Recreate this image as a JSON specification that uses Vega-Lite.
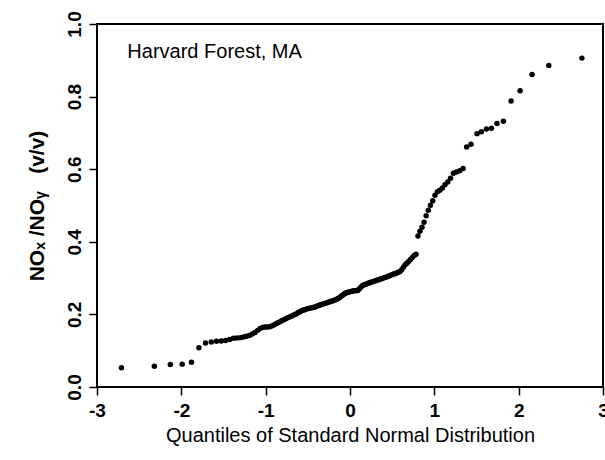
{
  "$schema": "https://vega.github.io/schema/vega-lite/v6.json",
  "width": 506,
  "height": 363,
  "autosize": {"type": "none"},
  "padding": {"left": 97, "top": 24, "right": 2, "bottom": 73},
  "background": "white",
  "config": {
    "view": {"stroke": "black", "strokeWidth": 2},
    "font": "Liberation Sans",
    "axis": {
      "domain": false,
      "grid": false,
      "ticks": true,
      "tickColor": "black",
      "tickSize": 8,
      "tickWidth": 1.5,
      "labelColor": "black",
      "titleColor": "black",
      "labelFont": "Liberation Sans",
      "titleFont": "Liberation Sans",
      "labelFontSize": 19,
      "labelFontWeight": "bold"
    }
  },
  "layer": [
    {
      "data": {
        "values": [
          {"q": -2.71, "r": 0.053}, {"q": -2.32, "r": 0.057}, {"q": -2.13, "r": 0.062}, {"q": -1.99, "r": 0.063}, {"q": -1.88, "r": 0.068},
          {"q": -1.791, "r": 0.108}, {"q": -1.713, "r": 0.121}, {"q": -1.645, "r": 0.124}, {"q": -1.583, "r": 0.126}, {"q": -1.528, "r": 0.127},
          {"q": -1.476, "r": 0.128}, {"q": -1.428, "r": 0.131}, {"q": -1.383, "r": 0.134}, {"q": -1.341, "r": 0.135}, {"q": -1.301, "r": 0.136},
          {"q": -1.263, "r": 0.138}, {"q": -1.227, "r": 0.140}, {"q": -1.192, "r": 0.142}, {"q": -1.159, "r": 0.146}, {"q": -1.126, "r": 0.150},
          {"q": -1.095, "r": 0.156}, {"q": -1.065, "r": 0.161}, {"q": -1.036, "r": 0.164}, {"q": -1.008, "r": 0.165}, {"q": -0.981, "r": 0.165},
          {"q": -0.954, "r": 0.166}, {"q": -0.928, "r": 0.168}, {"q": -0.903, "r": 0.171}, {"q": -0.878, "r": 0.174}, {"q": -0.854, "r": 0.177},
          {"q": -0.830, "r": 0.180}, {"q": -0.806, "r": 0.183}, {"q": -0.783, "r": 0.185}, {"q": -0.761, "r": 0.188}, {"q": -0.739, "r": 0.191},
          {"q": -0.717, "r": 0.193}, {"q": -0.695, "r": 0.195}, {"q": -0.674, "r": 0.198}, {"q": -0.654, "r": 0.200}, {"q": -0.633, "r": 0.202},
          {"q": -0.613, "r": 0.205}, {"q": -0.593, "r": 0.207}, {"q": -0.573, "r": 0.210}, {"q": -0.553, "r": 0.212}, {"q": -0.534, "r": 0.213},
          {"q": -0.515, "r": 0.215}, {"q": -0.496, "r": 0.216}, {"q": -0.477, "r": 0.217}, {"q": -0.458, "r": 0.218}, {"q": -0.440, "r": 0.219},
          {"q": -0.421, "r": 0.220}, {"q": -0.403, "r": 0.222}, {"q": -0.385, "r": 0.223}, {"q": -0.367, "r": 0.225}, {"q": -0.349, "r": 0.226},
          {"q": -0.332, "r": 0.228}, {"q": -0.314, "r": 0.229}, {"q": -0.297, "r": 0.230}, {"q": -0.279, "r": 0.232}, {"q": -0.262, "r": 0.233},
          {"q": -0.245, "r": 0.234}, {"q": -0.228, "r": 0.236}, {"q": -0.210, "r": 0.237}, {"q": -0.193, "r": 0.238}, {"q": -0.176, "r": 0.240},
          {"q": -0.159, "r": 0.242}, {"q": -0.143, "r": 0.244}, {"q": -0.126, "r": 0.246}, {"q": -0.109, "r": 0.249}, {"q": -0.092, "r": 0.252},
          {"q": -0.075, "r": 0.255}, {"q": -0.059, "r": 0.258}, {"q": -0.042, "r": 0.259}, {"q": -0.025, "r": 0.261}, {"q": -0.008, "r": 0.262},
          {"q": 0.008, "r": 0.263}, {"q": 0.025, "r": 0.264}, {"q": 0.042, "r": 0.265}, {"q": 0.059, "r": 0.265}, {"q": 0.075, "r": 0.266},
          {"q": 0.092, "r": 0.266}, {"q": 0.109, "r": 0.270}, {"q": 0.126, "r": 0.274}, {"q": 0.143, "r": 0.278}, {"q": 0.159, "r": 0.281},
          {"q": 0.176, "r": 0.282}, {"q": 0.193, "r": 0.284}, {"q": 0.210, "r": 0.285}, {"q": 0.228, "r": 0.287}, {"q": 0.245, "r": 0.288},
          {"q": 0.262, "r": 0.290}, {"q": 0.279, "r": 0.291}, {"q": 0.297, "r": 0.292}, {"q": 0.314, "r": 0.294}, {"q": 0.332, "r": 0.295},
          {"q": 0.349, "r": 0.296}, {"q": 0.367, "r": 0.298}, {"q": 0.385, "r": 0.299}, {"q": 0.403, "r": 0.301}, {"q": 0.421, "r": 0.302},
          {"q": 0.440, "r": 0.304}, {"q": 0.458, "r": 0.306}, {"q": 0.477, "r": 0.307}, {"q": 0.496, "r": 0.309}, {"q": 0.515, "r": 0.311},
          {"q": 0.534, "r": 0.312}, {"q": 0.553, "r": 0.314}, {"q": 0.573, "r": 0.316}, {"q": 0.593, "r": 0.318}, {"q": 0.613, "r": 0.323},
          {"q": 0.633, "r": 0.330}, {"q": 0.654, "r": 0.337}, {"q": 0.674, "r": 0.341}, {"q": 0.695, "r": 0.346}, {"q": 0.717, "r": 0.351},
          {"q": 0.739, "r": 0.357}, {"q": 0.761, "r": 0.362}, {"q": 0.783, "r": 0.366}, {"q": 0.806, "r": 0.416}, {"q": 0.830, "r": 0.429},
          {"q": 0.854, "r": 0.440}, {"q": 0.878, "r": 0.454}, {"q": 0.903, "r": 0.472}, {"q": 0.928, "r": 0.487}, {"q": 0.954, "r": 0.501},
          {"q": 0.981, "r": 0.513}, {"q": 1.008, "r": 0.528}, {"q": 1.036, "r": 0.538}, {"q": 1.065, "r": 0.542}, {"q": 1.095, "r": 0.548},
          {"q": 1.126, "r": 0.557}, {"q": 1.159, "r": 0.565}, {"q": 1.192, "r": 0.575}, {"q": 1.227, "r": 0.589}, {"q": 1.263, "r": 0.592},
          {"q": 1.301, "r": 0.596}, {"q": 1.341, "r": 0.602}, {"q": 1.383, "r": 0.661}, {"q": 1.435, "r": 0.669}, {"q": 1.506, "r": 0.698},
          {"q": 1.558, "r": 0.703}, {"q": 1.618, "r": 0.711}, {"q": 1.677, "r": 0.713}, {"q": 1.743, "r": 0.726}, {"q": 1.819, "r": 0.732},
          {"q": 1.910, "r": 0.788}, {"q": 2.017, "r": 0.816}, {"q": 2.159, "r": 0.861}, {"q": 2.357, "r": 0.886}, {"q": 2.75, "r": 0.906}
        ]
      },
      "mark": {"type": "circle", "color": "black", "opacity": 1, "size": 30},
      "encoding": {
        "x": {
          "field": "q",
          "type": "quantitative",
          "scale": {"domain": [-3, 3], "nice": false, "zero": false},
          "axis": {
            "values": [-3, -2, -1, 0, 1, 2, 3],
            "labelExpr": "'' + datum.value",
            "labelPadding": 6,
            "labelFlush": false,
            "title": "Quantiles of Standard Normal Distribution",
            "titleFontSize": 20,
            "titleFontWeight": "normal",
            "titleBaseline": "alphabetic",
            "titleAlign": "center",
            "titleX": 253,
            "titleY": 54
          }
        },
        "y": {
          "field": "r",
          "type": "quantitative",
          "scale": {"domain": [0, 1], "nice": false, "zero": false},
          "axis": {
            "values": [0, 0.2, 0.4, 0.6, 0.8, 1.0],
            "format": ".1f",
            "labelAngle": 270,
            "labelAlign": "center",
            "labelBaseline": "alphabetic",
            "labelPadding": 9,
            "labelFlush": false,
            "title": "NOₓ /NOᵧ\u00a0\u00a0\u00a0(v/v)",
            "titleFontSize": 21,
            "titleFontWeight": "bold",
            "titleAngle": 270,
            "titleAlign": "center",
            "titleBaseline": "alphabetic",
            "titleX": -54,
            "titleY": 181.5
          }
        }
      }
    },
    {
      "data": {"values": [{"x": -2.64, "y": 0.906, "label": "Harvard Forest, MA"}]},
      "mark": {"type": "text", "align": "left", "baseline": "alphabetic", "fontSize": 20, "font": "Liberation Sans", "color": "black"},
      "encoding": {
        "x": {"field": "x", "type": "quantitative"},
        "y": {"field": "y", "type": "quantitative"},
        "text": {"field": "label"}
      }
    }
  ]
}
